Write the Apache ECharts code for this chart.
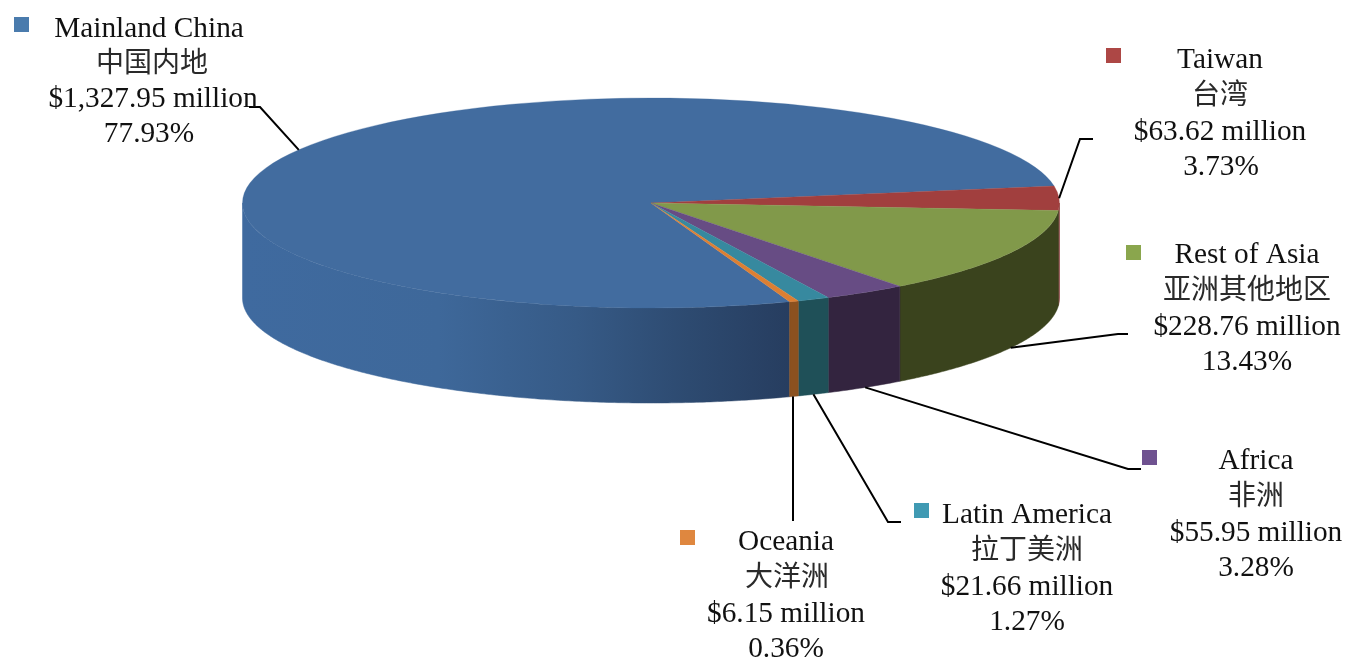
<!DOCTYPE html>
<html><head><meta charset="utf-8">
<style>html,body{margin:0;padding:0;background:#fff}#c{width:1348px;height:659px}</style>
<script src="https://cdn.jsdelivr.net/npm/echarts@6/dist/echarts.min.js"></script>
</head><body><div id="c"></div>
<script>
// ---- data ----
const categories = ['Mainland China','Taiwan','Rest of Asia','Africa','Latin America','Oceania'];
const categoriesZh = ['中国内地','台湾','亚洲其他地区','非洲','拉丁美洲','大洋洲'];
const values = [1327.95,63.62,228.76,55.95,21.66,6.15];
const shares = ['77.93%','3.73%','13.43%','3.28%','1.27%','0.36%'];
const valueLabels = ['$1,327.95 million','$63.62 million','$228.76 million','$55.95 million','$21.66 million','$6.15 million'];

// ---- layout and styles ----
const CX=651, CY=203, RX=408.5, RY=105, DEPTH=95;
const TAIWAN_START=-9.3; // degrees, clockwise on screen, where the Taiwan slice begins
const topColors=['#426c9f','#a13f3e','#81994a','#674c84','#37899f','#dc7f33'];
const wallColors=[null,'#7a2f2d','#3a431d','#33243f','#1f5058','#8b511f'];
const markerColors=['#4a7bad','#ad4745','#8aa64d','#6f5290','#409ab3','#df873f'];
const labelLayout=[
 {cx:149,dx:[0,3,4,0],y:[27,62,97,132],mx:14,my:17,elbow:[[260,107],[249,107]]},
 {cx:1220,dx:[0,0,0,1],y:[58,94,130,165],mx:1106,my:48,elbow:[[1080,139],[1093,139]]},
 {cx:1247,dx:[0,0,0,0],y:[253,289,325,360],mx:1126,my:245,elbow:[[1118,334],[1128,334]]},
 {cx:1256,dx:[0,0,0,0],y:[459,495,531,566],mx:1142,my:450,elbow:[[1128,469],[1141,469]]},
 {cx:1027,dx:[0,0,0,0],y:[513,549,585,620],mx:914,my:503,elbow:[[888,522],[901,522]]},
 {cx:786,dx:[0,1,0,0],y:[540,576,612,647],mx:680,my:530,elbow:[[null,521]]}
];
const FONT="'Liberation Serif','Noto Sans CJK SC',serif";

// slice angles come from the values
const total=values.reduce((a,b)=>a+b,0);
const spans=values.map(v=>v/total*360);
const order=[1,2,3,4,5,0];
const startDeg={}; let acc=TAIWAN_START;
order.forEach(i=>{startDeg[i]=acc;acc+=spans[i];});
const rad=d=>d*Math.PI/180;
const ex=d=>CX+RX*Math.cos(rad(d)), ey=d=>CY+RY*Math.sin(rad(d));

function wallPoints(a,b){
  const s=Math.max(a,0),e=Math.min(b,180);
  if(e<=s) return [];
  const n=Math.max(2,Math.ceil((e-s)*2)),top=[],bot=[];
  for(let j=0;j<=n;j++){const d=s+(e-s)*j/n;top.push([ex(d),ey(d)]);bot.unshift([ex(d),ey(d)+DEPTH]);}
  return [top.concat(bot)];
}
const ids=categories.map((_,i)=>[i,values[i]]);
const mainWallFill={type:'linear',global:true,x:243,y:0,x2:800,y2:0,colorStops:[
 {offset:0,color:'#3f6a9f'},{offset:.35,color:'#3e689a'},{offset:.6,color:'#365a86'},
 {offset:.8,color:'#2d4a70'},{offset:1,color:'#263c5e'}]};

const option={
 animation:false,backgroundColor:'#fff',
 series:[
  {type:'custom',coordinateSystem:'none',silent:true,z:1,data:ids,
   renderItem(p,api){
    const i=api.value(0),a=startDeg[i],b=a+spans[i];
    return {type:'group',children:wallPoints(a,b).map(pts=>({type:'polygon',shape:{points:pts},
      style:{fill:i===0?mainWallFill:wallColors[i],stroke:i===0?mainWallFill:wallColors[i],lineWidth:.5}}))};
   }},
  {type:'custom',coordinateSystem:'none',silent:true,z:2,data:ids,
   renderItem(p,api){
    const i=api.value(0),a=startDeg[i],b=a+spans[i];
    return {type:'sector',x:CX,y:CY,scaleY:RY/RX,
      shape:{cx:0,cy:0,r:RX,r0:0,startAngle:rad(a),endAngle:rad(b),clockwise:true},
      style:{fill:topColors[i],stroke:topColors[i],lineWidth:.5}};
   }},
  {type:'custom',coordinateSystem:'none',silent:true,z:3,data:ids,
   renderItem(p,api){
    const i=api.value(0),mid=startDeg[i]+spans[i]/2,L=labelLayout[i];
    const norm=((mid%360)+360)%360;
    const front=norm>0&&norm<180;
    const sx=ex(mid),sy=ey(mid)+(front?DEPTH:0);
    const pts=[[sx,sy]].concat(L.elbow.map(q=>[q[0]===null?sx-1:q[0],q[1]]));
    if(i===5)pts[0][0]=sx-1;
    return {type:'polyline',shape:{points:pts},style:{fill:'none',stroke:'#000',lineWidth:2}};
   }},
  {type:'custom',coordinateSystem:'none',silent:true,z:4,data:ids,
   renderItem(p,api){
    const i=api.value(0),L=labelLayout[i];
    const lines=[categories[i],categoriesZh[i],valueLabels[i],shares[i]];
    const kids=[{type:'rect',shape:{x:L.mx,y:L.my,width:15,height:15},style:{fill:markerColors[i]}}];
    lines.forEach((t,k)=>kids.push({type:'text',x:L.cx+L.dx[k],y:L.y[k]+(k===1?3:2),style:{text:t,x:0,y:0,align:'center',verticalAlign:'middle',
      font:(k===1?'28px ':'29.3px ')+FONT,fill:k===1?'#2a2a2a':'#111'}}));
    return {type:'group',children:kids};
   }}
 ]
};
const chart=echarts.init(document.getElementById('c'),null,{renderer:'canvas'});
chart.setOption(option);
</script></body></html>
